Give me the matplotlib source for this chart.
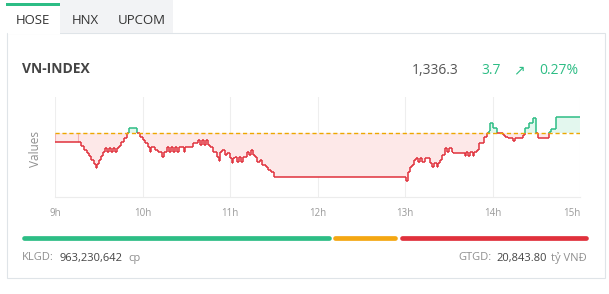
import matplotlib
matplotlib.use('Agg')
import matplotlib.pyplot as plt
import numpy as np
from matplotlib.collections import LineCollection
from matplotlib.lines import Line2D
from matplotlib.patches import Rectangle


# %%  Data

tabs        = ['HOSE', 'HNX', 'UPCOM']
index_name  = 'VN-INDEX'
last_value  = '1,336.3'
change      = '3.7'
change_pct  = '0.27%'
ref_close   = 1332.6

# minutes after 9:00 and index level (step series)
t_min = [0, 15.8, 17.8, 19.9, 22.0, 23.3, 24.7, 26.8, 28.1, 28.8, 30.2, 31.6, 33.0, 34.3,
         35.7, 37.1, 38.4, 39.8, 41.2, 42.6, 43.9, 45.3, 47.4, 49.4, 50.8, 55.6, 56.3, 58.4,
         60.4, 61.8, 63.8, 65.2, 65.9, 67.3, 68.7, 70.7, 73.5, 74.8, 76.9, 78.3, 79.6, 81.0,
         82.4, 83.8, 85.1, 87.2, 88.6, 89.2, 91.3, 94.7, 98.2, 99.5, 100.9, 102.3, 103.7,
         105.0, 106.4, 108.5, 109.8, 111.2, 112.6, 113.3, 114.6, 116.7, 118.1, 120.1, 121.5,
         122.2, 123.6, 124.9, 126.3, 127.7, 129.1, 131.8, 133.2, 134.6, 135.9, 137.3, 138.7,
         140.8, 142.1, 144.9, 146.2, 148.3, 150.0,
         240.0, 241.0, 242.3, 243.7, 245.1, 246.5, 247.8, 249.2, 250.6, 251.9, 254.0, 257.4,
         258.8, 260.2, 261.6, 262.9, 264.3, 265.7, 267.7, 269.1, 270.5, 271.9, 273.2, 279.4,
         280.8, 282.1, 283.5, 284.9, 286.3, 287.6, 289.7, 290.4, 293.1, 294.5, 295.9, 297.3,
         298.6, 300.0, 302.1, 303.4, 305.5, 306.9, 308.9, 310.3, 313.7, 314.4, 315.1, 319.2,
         320.6, 322.0, 322.6, 324.7, 327.5, 328.1, 329.5, 330.9, 337.8, 338.4, 339.8, 341.9,
         343.3, 360.0]

vn_index = [1330.5, 1330.5, 1329.6, 1328.7, 1328.0, 1327.3, 1326.4, 1325.4, 1324.5, 1325.4,
            1326.4, 1327.3, 1328.2, 1329.1, 1328.2, 1329.1, 1328.2, 1329.1, 1328.2, 1329.1,
            1329.6, 1330.5, 1331.5, 1332.6, 1333.8, 1333.8, 1332.6, 1331.7, 1331.0, 1330.3,
            1329.4, 1328.2, 1329.4, 1329.4, 1328.7, 1328.2, 1327.1, 1328.2, 1329.4, 1328.2,
            1329.4, 1328.2, 1329.4, 1328.2, 1329.4, 1329.4, 1328.2, 1329.4, 1329.4, 1330.3,
            1331.0, 1329.8, 1331.0, 1329.8, 1331.0, 1329.8, 1329.4, 1328.2, 1328.2, 1327.1,
            1326.1, 1328.2, 1328.7, 1327.5, 1328.0, 1326.8, 1325.7, 1326.8, 1327.1, 1325.9,
            1327.1, 1325.9, 1327.1, 1328.2, 1327.5, 1328.7, 1327.5, 1327.1, 1325.9, 1326.4,
            1325.2, 1324.8, 1324.1, 1323.6, 1322.4,
            1322.4, 1321.5, 1323.6, 1324.8, 1325.2, 1326.4, 1326.8, 1325.9, 1326.8, 1325.9,
            1326.8, 1325.7, 1324.8, 1325.7, 1324.8, 1325.7, 1326.4, 1327.5, 1329.1, 1328.2,
            1329.1, 1328.2, 1328.0, 1328.0, 1327.3, 1328.2, 1327.3, 1328.2, 1327.3, 1328.2,
            1328.7, 1330.3, 1330.3, 1331.7, 1332.6, 1333.1, 1334.9, 1333.8, 1333.8, 1332.6,
            1332.6, 1332.1, 1331.7, 1331.5, 1331.5, 1330.8, 1331.5, 1331.5, 1332.1, 1332.6,
            1333.8, 1334.9, 1334.9, 1336.1, 1332.6, 1331.5, 1331.5, 1332.8, 1333.5, 1333.5,
            1336.3, 1336.3]

hour_ticks  = [9, 10, 11, 12, 13, 14, 15]
hour_labels = ['9h', '10h', '11h', '12h', '13h', '14h', '15h']

breadth     = [55.0, 11.4, 33.6]   # advancing / unchanged / declining share (%)
klgd        = '963,230,642'
gtgd        = '20,843.80'


# %%  Style

plt.rcParams['font.family'] = ['Open Sans', 'DejaVu Sans']

GREEN  = '#2dbd85'
RED    = '#e0313c'
ORANGE = '#f4a712'
GRAY   = '#8f8f8f'
DARK   = '#444444'

W, H = 609, 294
fig = plt.figure(figsize=(W / 100, H / 100), dpi=100)

def fx(x): return x / W
def fy(y): return 1 - y / H

def box(x0, y0, x1, y1, **kw):
    fig.patches.append(Rectangle((fx(x0), fy(y1)), fx(x1) - fx(x0), fy(y0) - fy(y1),
                                 transform=fig.transFigure, zorder=-5, **kw))


# %%  Card + tabs

box(7, 33, 605, 278, facecolor='white', edgecolor='#dfe4e8', lw=0.8)
box(60, 0, 173, 33, facecolor='#f2f3f5', edgecolor='none')
box(7.5, 0, 60, 33.5, facecolor='white', edgecolor='none')
box(6, 3, 60, 6, facecolor=GREEN, edgecolor='none')

tab_x = [33, 85, 142]
for name, x in zip(tabs, tab_x):
    fig.text(fx(x), fy(20), name, ha='center', va='center', fontsize=9.5, color='#333333')

fig.text(fx(22), fy(69), index_name, ha='left', va='center', fontsize=10,
         fontweight='bold', color=DARK)
fig.text(fx(459), fy(71), last_value, ha='right', va='center', fontsize=10, color='#555555')
fig.text(fx(481), fy(71), change, ha='left', va='center', fontsize=10, color=GREEN)
fig.text(fx(519), fy(70), '\u2197', ha='center', va='center', fontsize=10, color=GREEN,
         family=['DejaVu Sans'])
fig.text(fx(578), fy(71), change_pct, ha='right', va='center', fontsize=10, color=GREEN)


# %%  Intraday chart

ax = fig.add_axes([fx(55), fy(197), fx(580) - fx(55), fy(97) - fy(197)])
ax.patch.set_alpha(0)

t = 9 + np.array(t_min) / 60
v = np.array(vn_index)

# explicit step path
xs, ys = [], []
for i in range(len(t)):
    xs.append(t[i]); ys.append(v[i])
    if i + 1 < len(t):
        xs.append(t[i + 1]); ys.append(v[i])
xs = np.array(xs); ys = np.array(ys)

ax.fill_between(xs, ys, ref_close, where=ys <= ref_close, interpolate=True,
                color='#fde8e8', lw=0)
ax.fill_between(xs, ys, ref_close, where=ys >= ref_close, interpolate=True,
                color='#e3f7ee', lw=0)
ax.vlines([t[0], t[1]], v[0], ref_close, color='#f2b3b6', lw=0.8)

segs, cols = [], []
for x0, y0, x1, y1 in zip(xs[:-1], ys[:-1], xs[1:], ys[1:]):
    if (y0 - ref_close) * (y1 - ref_close) < 0:
        segs.append([(x0, y0), (x1, ref_close)])
        cols.append(GREEN if y0 > ref_close else RED)
        segs.append([(x1, ref_close), (x1, y1)])
        cols.append(GREEN if y1 > ref_close else RED)
    else:
        segs.append([(x0, y0), (x1, y1)])
        cols.append(GREEN if (y0 + y1) / 2 > ref_close else RED)
ax.add_collection(LineCollection(segs, colors=cols, linewidths=1.1, capstyle='butt'))

ax.axhline(ref_close, color='#eda700', lw=1.0, dashes=(3, 2), zorder=3)

ax.set_xlim(9, 15)
ax.set_ylim(1317.8, 1340.9)
ax.set_yticks([])
ax.set_xticks(hour_ticks, hour_labels)
ax.tick_params(axis='x', length=0, pad=8, labelsize=7, labelcolor='#9a9a9a')
ax.get_xticklabels()[-1].set_ha('right')
for xt in hour_ticks:
    ax.axvline(xt, color='#eeeeee', lw=0.8, zorder=0)
for s in ['top', 'right', 'left']:
    ax.spines[s].set_visible(False)
ax.spines['bottom'].set_color('#ececec')
ax.spines['bottom'].set_linewidth(0.8)
ax.set_ylabel('Values', fontsize=8.5, color=GRAY)
ax.yaxis.set_label_coords(-13 / 525, 0.48)


# %%  Market breadth bar

x_start, x_end, gap = 22, 588, 2.5
span = x_end - x_start - gap * (len(breadth) - 1)
pos = x_start
for share, col in zip(breadth, [GREEN, ORANGE, RED]):
    length = span * share / sum(breadth)
    fig.lines.append(Line2D([fx(pos + 2), fx(pos + length - 2)], [fy(238), fy(238)],
                            transform=fig.transFigure, color=col, lw=3.4,
                            solid_capstyle='round'))
    pos += length + gap


# %%  Footer

fig.text(fx(22), fy(258), 'KLGD:', ha='left', va='center', fontsize=8, color=GRAY)
fig.text(fx(60), fy(258), klgd, ha='left', va='center', fontsize=8, color=DARK)
fig.text(fx(128), fy(258), 'cp', ha='left', va='center', fontsize=8, color=GRAY)

fig.text(fx(587), fy(258), 'tỷ VNĐ', ha='right', va='center', fontsize=8, color=GRAY)
fig.text(fx(547), fy(258), gtgd, ha='right', va='center', fontsize=8, color=DARK)
fig.text(fx(492), fy(258), 'GTGD:', ha='right', va='center', fontsize=8, color=GRAY)

fig.savefig('out.png', dpi=100)
